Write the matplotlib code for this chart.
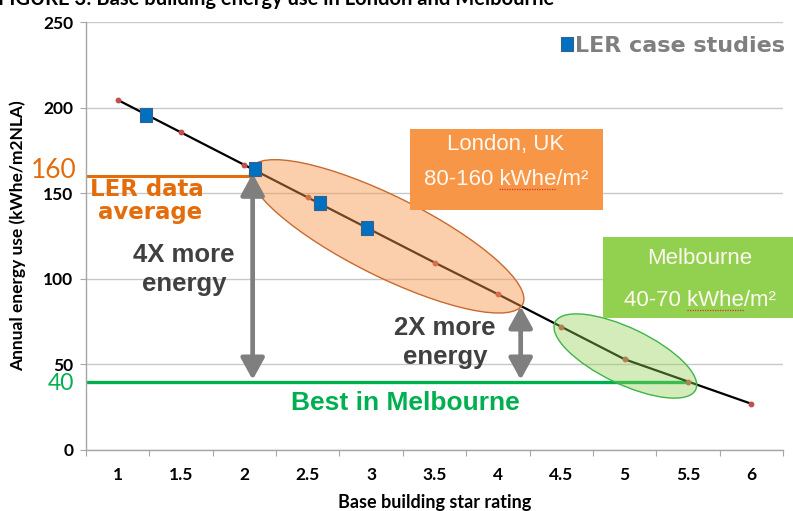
import matplotlib
matplotlib.use("Agg")
import matplotlib.pyplot as plt
import matplotlib.transforms as mtransforms
from matplotlib.patches import Ellipse, Rectangle, FancyArrowPatch
from matplotlib.lines import Line2D
from matplotlib.font_manager import FontProperties

# ---- data -------------------------------------------------------------
stars = [1, 1.5, 2, 2.5, 3, 3.5, 4, 4.5, 5, 5.5, 6]
trend_energy = [204.5, 185.5, 166.5, 147.5, 128.5, 109.5, 91, 72, 53, 40, 27]

case_stars = [1.22, 2.08, 2.60, 2.97]
case_energy = [195.5, 164, 144.5, 129.5]

star_labels = ["1", "1.5", "2", "2.5", "3", "3.5", "4", "4.5", "5", "5.5", "6"]
y_ticks = [0, 50, 100, 150, 200, 250]

ler_average = 160
best_melbourne = 40
avg_line_end = 2.04        # star rating where the average line stops
best_line_end = 5.5        # star rating where the best-practice line stops
arrow_4x_star = 2.065
arrow_2x_star = 4.18
arrow_2x_top = 84

# ---- colours ----------------------------------------------------------
ORANGE = "#E46C0A"
GREEN = "#00B050"
GREY_ARROW = "#7F7F7F"
GRID = "#C8C8C8"
BLUE = "#0070C0"
DOT = "#C0504D"

W, H = 793, 511


def fpx(x, y):
    """Pixel position (from top-left) to figure fraction."""
    return (x / W, 1 - y / H)


fig = plt.figure(figsize=(W / 100, H / 100), dpi=100)
ax = fig.add_axes([86 / W, 1 - 450 / H, (783 - 86) / W, (450 - 22) / H])
ax.set_xlim(0.75, 6.25)
ax.set_ylim(0, 250)

# axes styling
for side in ("top", "right"):
    ax.spines[side].set_visible(False)
for side in ("left", "bottom"):
    ax.spines[side].set_color("#A6A6A6")
    ax.spines[side].set_linewidth(1)

ax.set_yticks(y_ticks)
ax.yaxis.grid(True, color=GRID, lw=1)
ax.set_axisbelow(True)
ax.tick_params(axis="y", length=4, color="#A6A6A6", pad=5,
               labelsize=12.5)
# category boundaries carry tick marks, category centres carry labels
ax.set_xticks([0.75 + 0.5 * i for i in range(12)])
ax.set_xticklabels([])
ax.set_xticks(stars, minor=True)
ax.set_xticklabels(star_labels, minor=True)
ax.tick_params(axis="x", which="major", length=4, color="#A6A6A6")
ax.tick_params(axis="x", which="minor", length=0, pad=12, labelsize=12.5)
for lbl in ax.get_xticklabels(minor=True) + ax.get_yticklabels():
    lbl.set_fontfamily("Lato")
    lbl.set_fontweight("bold")

ax.set_xlabel("Base building star rating", family="Lato", weight="bold",
              fontsize=13, labelpad=8)
ax.set_ylabel("Annual energy use (kWhe/m2NLA)", family="Lato",
              weight="bold", fontsize=12.5, labelpad=12)

# reference levels
ax.hlines(ler_average, 0.75, avg_line_end, color=ORANGE, lw=2.2, zorder=2)
ax.hlines(best_melbourne, 0.75, best_line_end, color=GREEN, lw=2.4, zorder=2)

# trend line through the star ratings
ax.plot(stars, trend_energy, color="black", lw=1.6, zorder=3,
        marker="o", ms=3.2, mfc=DOT, mec=DOT, solid_capstyle="round")


def ellipse(cx, cy, w_px, h_px, angle, fc, ec, alpha):
    tr = fig.dpi_scale_trans + mtransforms.ScaledTranslation(cx, cy, ax.transData)
    ax.add_patch(Ellipse((0, 0), w_px / 100, h_px / 100, angle=angle,
                         transform=tr, facecolor=fc, edgecolor="none",
                         alpha=alpha, zorder=4))
    ax.add_patch(Ellipse((0, 0), w_px / 100, h_px / 100, angle=angle,
                         transform=tr, facecolor="none", edgecolor=ec,
                         lw=1.0, zorder=4.1))


ellipse(3.123, 124.8, 304, 80, -26.5, "#F79646", "#C86A2E", 0.45)
ellipse(5.006, 54.9, 156, 56, -25.6, "#92D050", "#3DB54A", 0.40)

# double-headed arrows
for xs, top in ((arrow_4x_star, ler_average + 1.5), (arrow_2x_star, arrow_2x_top)):
    ax.add_patch(FancyArrowPatch((xs, best_melbourne + 1), (xs, top),
                                 arrowstyle="<|-|>,head_length=1.0,head_width=0.55",
                                 mutation_scale=13, color=GREY_ARROW, lw=3.4,
                                 shrinkA=0, shrinkB=0, zorder=5))

# LER case studies
case_marker = [(-0.39, -0.5), (0.39, -0.5), (0.39, 0.5), (-0.39, 0.5), (-0.39, -0.5)]
case_line, = ax.plot(case_stars, case_energy, ls="none", marker=case_marker,
                     ms=10.5, mfc=BLUE, mec="#3A5F8A", mew=0.8, zorder=6)

ax.legend([case_line], ["LER case studies"], loc="upper left",
          bbox_to_anchor=fpx(561, 36), bbox_transform=fig.transFigure,
          frameon=False, handlelength=0.5, handletextpad=0.12,
          borderpad=0, borderaxespad=0, labelcolor="#7F7F7F",
          prop={"family": "DejaVu Sans", "weight": "bold", "size": 16})

# value labels on the left
left_trans = mtransforms.blended_transform_factory(fig.transFigure, ax.transData)
ax.text(54 / W, ler_average + 3, "160", transform=left_trans,
        ha="center", va="center", color=ORANGE, fontsize=19, family="Lato")
ax.text(61 / W, best_melbourne - 1, "40", transform=left_trans,
        ha="center", va="center", color=GREEN, fontsize=16.5, family="Lato")

# explanatory text
note = dict(ha="center", va="baseline", weight="bold")
fig.text(*fpx(147, 196), "LER data", color=ORANGE, fontsize=16.5,
         family="DejaVu Sans", **note)
fig.text(*fpx(150, 219), "average", color=ORANGE, fontsize=16.5,
         family="DejaVu Sans", **note)
fig.text(*fpx(184, 262), "4X more", color="#404040", fontsize=18.5,
         family="Liberation Sans", **note)
fig.text(*fpx(184, 291), "energy", color="#404040", fontsize=18.5,
         family="Liberation Sans", **note)
fig.text(*fpx(445, 335), "2X more", color="#404040", fontsize=18.5,
         family="Liberation Sans", **note)
fig.text(*fpx(445, 364), "energy", color="#404040", fontsize=18.5,
         family="Liberation Sans", **note)
fig.text(*fpx(405, 410), "Best in Melbourne", color=GREEN, fontsize=19,
         family="Liberation Sans", **note)

# city boxes
fig.patches.append(Rectangle(fpx(410, 210), 193 / W, 81 / H,
                             transform=fig.transFigure, facecolor="#F79646",
                             edgecolor="none", zorder=7))
fig.patches.append(Rectangle(fpx(603, 318), 190 / W, 81 / H,
                             transform=fig.transFigure, facecolor="#92D050",
                             edgecolor="none", zorder=7))
BOX_SIZE = 16
box_text = dict(ha="center", va="baseline", color="#FFF8F0", fontsize=BOX_SIZE,
                family="Liberation Sans", zorder=8)
fig.text(*fpx(506, 150), "London, UK", **box_text)
fig.text(*fpx(700, 264), "Melbourne", **box_text)

renderer = fig.canvas.get_renderer()
box_prop = FontProperties(family="Liberation Sans", size=BOX_SIZE)


def text_width(s):
    w, _, _ = renderer.get_text_width_height_descent(s, box_prop, ismath=False)
    return w


def unit_line(cx, baseline, prefix, word, suffix):
    """Range text with a spell-check style wavy underline below the unit."""
    full = prefix + word + suffix
    fig.text(*fpx(cx, baseline), full, **box_text)
    start = cx - text_width(full) / 2 + text_width(prefix)
    end = start + text_width(word)
    fig.lines.append(Line2D([start / W, end / W],
                            [1 - (baseline + 4) / H] * 2,
                            transform=fig.transFigure, color="#E0302A",
                            lw=0.9, ls=(0, (1, 1)), zorder=9))


unit_line(506, 185, "80-160 ", "kWhe", "/m\u00b2")
unit_line(700, 306, "40-70 ", "kWhe", "/m\u00b2")

# figure caption, partly above the top edge
fig.text(*fpx(-2, 5), "FIGURE 3: Base building energy use in London and Melbourne",
         ha="left", va="baseline", fontsize=14.5, family="Lato", weight="bold")

fig.savefig("out.png", dpi=100)
